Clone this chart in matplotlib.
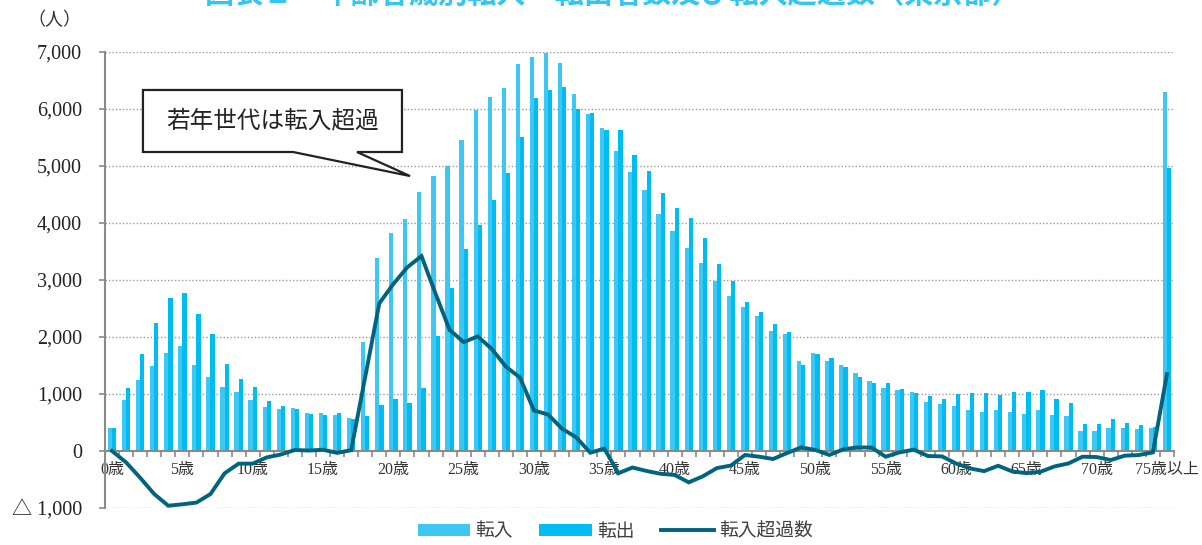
import matplotlib
matplotlib.use('Agg')
import matplotlib.pyplot as plt
import numpy as np
from matplotlib.patches import Polygon, Patch
from matplotlib.lines import Line2D
from matplotlib.ticker import FixedLocator, FuncFormatter

plt.rcParams['font.family'] = ['Liberation Serif', 'Noto Sans CJK JP']

# ages 0..74 and "75歳以上"
ages = list(range(76))
tick_labels = ['{0}歳'.format(a) for a in range(0, 75, 5)] + ['75歳以上']

tennyu = [400, 890, 1240, 1495, 1724, 1835, 1512, 1300, 1124, 1030,
          894, 765, 730, 747, 659, 659, 630, 576, 1906, 3390,
          3830, 4073, 4536, 4823, 4992, 5461, 5976, 6210, 6374, 6795,
          6912, 6976, 6813, 6263, 5905, 5671, 5268, 4896, 4578, 4151,
          3858, 3560, 3290, 2980, 2728, 2535, 2360, 2102, 2055, 1575,
          1715, 1575, 1511, 1376, 1235, 1106, 1065, 1029, 865, 818,
          782, 712, 676, 724, 688, 641, 712, 635, 618, 359,
          359, 406, 400, 388, 400, 6290]

tenshutsu = [400, 1100, 1705, 2247, 2682, 2765, 2412, 2047, 1518, 1265,
             1130, 876, 788, 730, 647, 635, 659, 559, 618, 800,
             907, 837, 1112, 2013, 2862, 3547, 3957, 4407, 4881, 5502,
             6198, 6339, 6391, 5999, 5923, 5636, 5640, 5187, 4906, 4532,
             4256, 4092, 3729, 3279, 2980, 2611, 2447, 2231, 2096, 1511,
             1698, 1639, 1470, 1306, 1185, 1200, 1082, 1024, 959, 918,
             1000, 1012, 1024, 988, 1041, 1029, 1076, 918, 841, 476,
             476, 553, 494, 459, 424, 4970]

chouka = [0, -200, -470, -755, -960, -935, -905, -755, -392, -222,
          -222, -112, -62, 18, 8, 22, -33, 14, 1300, 2590,
          2930, 3225, 3420, 2760, 2125, 1910, 2010, 1790, 1480, 1290,
          710, 640, 390, 240, -30, 42, -390, -290, -350, -400,
          -420, -550, -445, -300, -255, -70, -100, -140, -35, 64,
          18, -70, 30, 64, 60, -100, -24, 24, -88, -94,
          -218, -306, -353, -259, -359, -388, -365, -271, -218, -100,
          -106, -159, -82, -71, -24, 1350]

c_in = '#3cc8f2'
c_out = '#00bcf2'
c_line = '#00647f'
grey = '#8a8a8a'


def ylab(v, pos):
    if v < 0:
        return '△ {0:,}'.format(int(-v))
    return '{0:,}'.format(int(v))


def main():
    fig = plt.figure(figsize=(12.02, 5.45), dpi=100)
    ax = fig.add_axes([105 / 1202, 1 - 508 / 545, 1069 / 1202, 456 / 545])

    x = np.array(ages)
    w = 0.3
    ax.bar(x - w / 2, tennyu, w, color=c_in, zorder=2)
    ax.bar(x + w / 2, tenshutsu, w, color=c_out, zorder=2)
    ax.plot(x, chouka, color=c_line, lw=2.8, zorder=4, solid_joinstyle='miter')

    ax.set_xlim(-0.5, 75.5)
    ax.set_ylim(-1000, 7000)

    # grid
    for v in range(-1000, 7001, 1000):
        if v != 0:
            ax.axhline(v, color='#9a9a9a', lw=1, ls=(0, (1, 1.5)), zorder=1)

    for s in ['top', 'right']:
        ax.spines[s].set_visible(False)
    ax.spines['left'].set_color(grey)
    ax.spines['left'].set_linewidth(1.5)
    ax.spines['bottom'].set_position(('data', 0))
    ax.spines['bottom'].set_color(grey)
    ax.spines['bottom'].set_linewidth(1.5)
    ax.spines['bottom'].set_zorder(3)

    ax.yaxis.set_major_locator(FixedLocator(range(-1000, 7001, 1000)))
    ax.yaxis.set_major_formatter(FuncFormatter(ylab))
    ax.tick_params(axis='y', length=4.5, width=1.2, color=grey, pad=12,
                   labelsize=14.5, labelcolor='#222222')

    ax.xaxis.set_major_locator(FixedLocator(range(0, 76, 5)))
    ax.set_xticklabels(tick_labels)
    ax.xaxis.set_minor_locator(FixedLocator(np.arange(-0.5, 76, 1)))
    ax.tick_params(axis='x', which='major', length=0, pad=8,
                   labelsize=11.5, labelcolor='#333333')
    ax.tick_params(axis='x', which='minor', length=4, width=1.2, color=grey,
                   direction='out')

    # callout box
    yb, yt = 0.7807, 0.9167
    pts = [(0.0355, yb), (0.0355, yt), (0.2778, yt), (0.2778, yb),
           (0.2357, yb), (0.2853, 0.728), (0.1759, yb)]
    ax.add_patch(Polygon(pts, closed=True, transform=ax.transAxes,
                         facecolor='white', edgecolor='#222222', lw=1.6,
                         zorder=5, joinstyle='miter'))
    ax.text(0.1566, 0.849, '若年世代は転入超過', transform=ax.transAxes,
            ha='center', va='center', fontsize=17, color='#222222',
            family=['Noto Sans CJK JP'], zorder=6)

    fig.text(54 / 1202, 1 - 20 / 545, '（人）', ha='center', va='center',
             fontsize=13, color='#333333', family=['Noto Sans CJK JP'])

    # title, mostly clipped by the top edge as in the source image
    fig.text(0.51, 1 - 3 / 545, '図表１　年齢各歳別転入・転出者数及び転入超過数（東京都）',
             ha='center', va='baseline', fontsize=21, color='#33c6f0',
             fontweight='bold', family=['Noto Sans CJK JP'])

    handles = [Patch(facecolor=c_in, label='転入'),
               Patch(facecolor=c_out, label='転出'),
               Line2D([], [], color=c_line, lw=2.8, label='転入超過数')]
    fig.legend(handles=handles, loc='center', bbox_to_anchor=(0.512, 1 - 531 / 545),
               ncol=3, frameon=False, handlelength=2.8, handleheight=0.6,
               handletextpad=0.3, columnspacing=1.4,
               prop={'family': ['Noto Sans CJK JP'], 'size': 13.5},
               labelcolor='#404040')

    fig.savefig('out.png', dpi=100)
    plt.close(fig)


if __name__ == '__main__':
    main()
